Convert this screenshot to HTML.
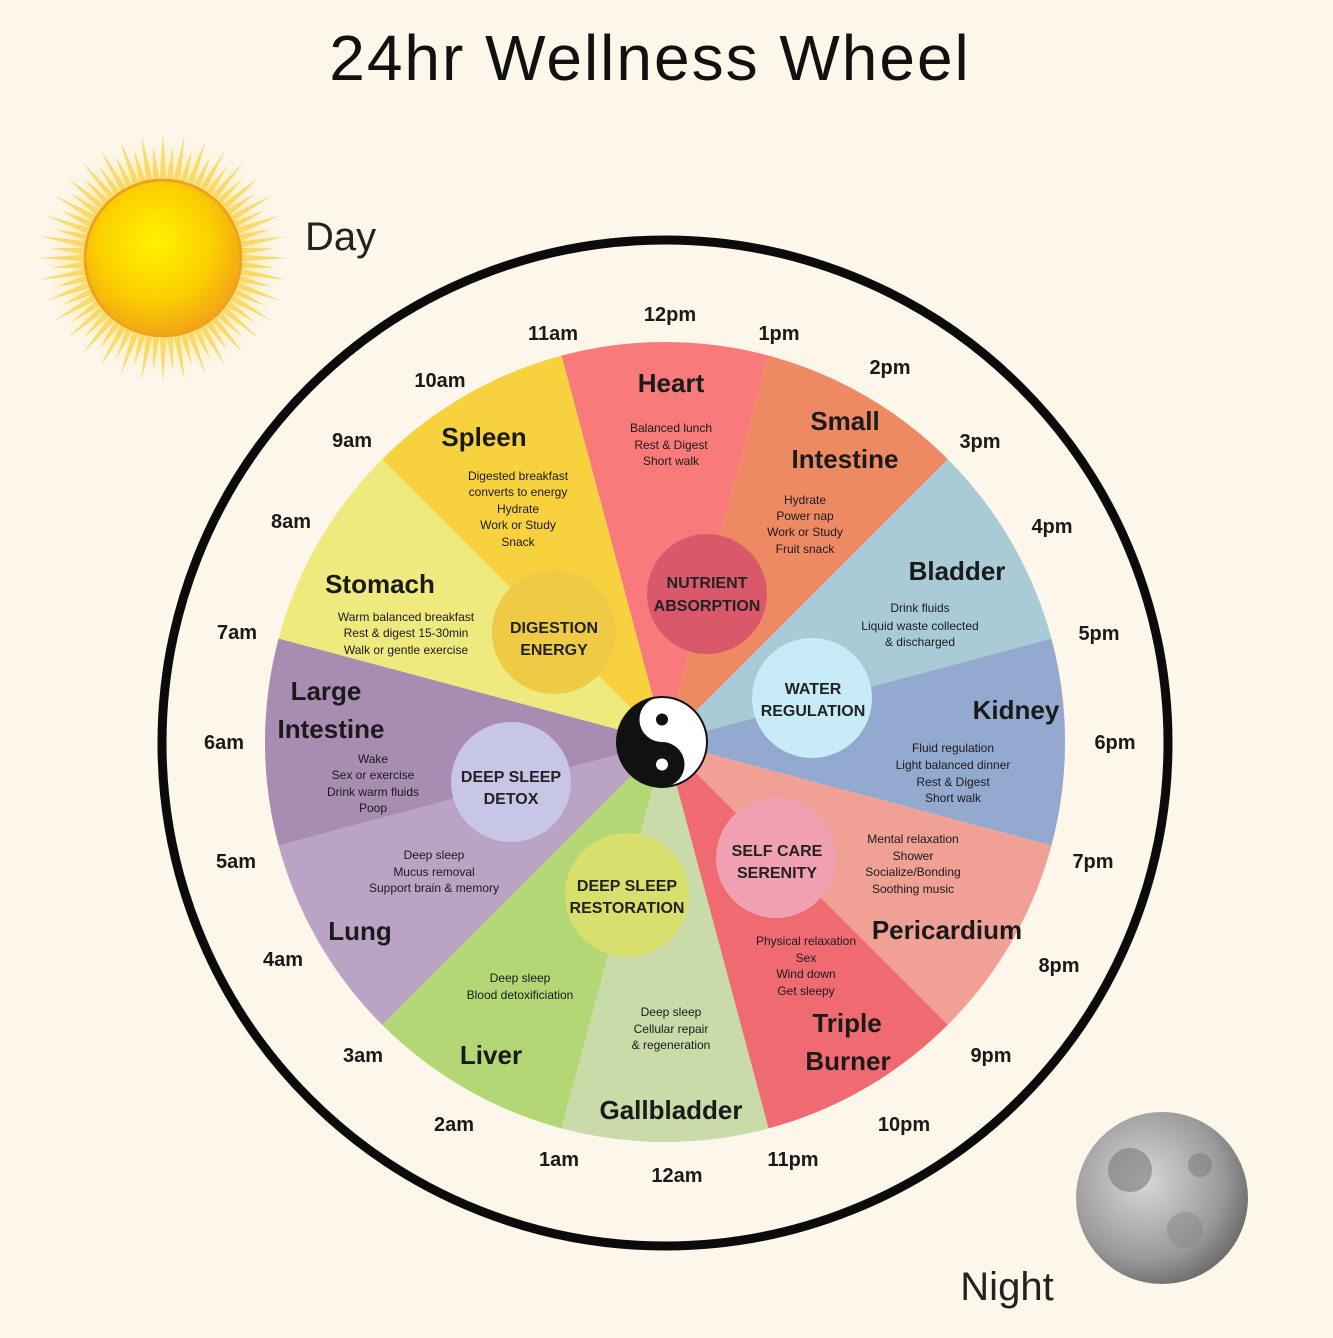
<!DOCTYPE html>
<html><head><meta charset="utf-8"><style>
html,body{margin:0;padding:0;background:#fdf6ea;}
svg{display:block;font-family:"Liberation Sans",sans-serif;}
</style></head><body>
<svg width="1333" height="1338" viewBox="0 0 1333 1338">
<defs>
<radialGradient id="sun" cx="45%" cy="40%" r="60%"><stop offset="0" stop-color="#fff200"/><stop offset="0.6" stop-color="#fcd000"/><stop offset="1" stop-color="#f2a516"/></radialGradient>
<radialGradient id="glow"><stop offset="0.55" stop-color="#fde27a" stop-opacity="0.9"/><stop offset="1" stop-color="#fdf6ea" stop-opacity="0"/></radialGradient>
<radialGradient id="moon" cx="40%" cy="40%" r="65%"><stop offset="0" stop-color="#d8d8d8"/><stop offset="0.7" stop-color="#9a9a9a"/><stop offset="1" stop-color="#6a6a6a"/></radialGradient>
</defs>
<rect width="1333" height="1338" fill="#fdf6ea"/>
<text x="650" y="80" font-size="64" letter-spacing="2" text-anchor="middle" fill="#111">24hr Wellness Wheel</text>
<!-- sun -->
<circle cx="163" cy="258" r="125" fill="url(#glow)"/>
<g id="rays" fill="#f9d65a" opacity="0.85"></g>
<circle cx="163" cy="258" r="78" fill="url(#sun)" stroke="#f0a318" stroke-width="3"/>
<text x="305" y="250" font-size="40" fill="#222">Day</text>
<!-- moon -->
<circle cx="1162" cy="1198" r="86" fill="url(#moon)"/>
<circle cx="1130" cy="1170" r="22" fill="#7a7a7a" opacity="0.6"/>
<circle cx="1185" cy="1230" r="18" fill="#888" opacity="0.5"/>
<circle cx="1200" cy="1165" r="12" fill="#777" opacity="0.5"/>
<text x="1007" y="1300" font-size="40" fill="#222" text-anchor="middle">Night</text>
<!-- outer ring -->
<circle cx="665" cy="743" r="503" fill="none" stroke="#0b0b0b" stroke-width="9"/>
<g stroke="none">
<path d="M665 742 L561.5 355.6 A400 400 0 0 1 768.5 355.6Z" fill="#f87a7b"/>
<path d="M665 742 L768.5 355.6 A400 400 0 0 1 947.8 459.2Z" fill="#ee8a63"/>
<path d="M665 742 L947.8 459.2 A400 400 0 0 1 1051.4 638.5Z" fill="#a9cbd6"/>
<path d="M665 742 L1051.4 638.5 A400 400 0 0 1 1051.4 845.5Z" fill="#94a9cf"/>
<path d="M665 742 L1051.4 845.5 A400 400 0 0 1 947.8 1024.8Z" fill="#f1a096"/>
<path d="M665 742 L947.8 1024.8 A400 400 0 0 1 768.5 1128.4Z" fill="#f06a72"/>
<path d="M665 742 L768.5 1128.4 A400 400 0 0 1 561.5 1128.4Z" fill="#c8dba8"/>
<path d="M665 742 L561.5 1128.4 A400 400 0 0 1 382.2 1024.8Z" fill="#b2d774"/>
<path d="M665 742 L382.2 1024.8 A400 400 0 0 1 278.6 845.5Z" fill="#bba3c6"/>
<path d="M665 742 L278.6 845.5 A400 400 0 0 1 278.6 638.5Z" fill="#a98cb1"/>
<path d="M665 742 L278.6 638.5 A400 400 0 0 1 382.2 459.2Z" fill="#eeea7e"/>
<path d="M665 742 L382.2 459.2 A400 400 0 0 1 561.5 355.6Z" fill="#f8d23e"/>
</g>
<circle cx="707" cy="594" r="60" fill="#d9596b"/>
<circle cx="812" cy="698" r="60" fill="#c7ecf7"/>
<circle cx="776" cy="858" r="60" fill="#f0a0b0"/>
<circle cx="627" cy="895" r="62" fill="#d8df6c"/>
<circle cx="511" cy="782" r="60" fill="#c8c6e6"/>
<circle cx="554" cy="632" r="62" fill="#efca45"/>
<g font-size="16" font-weight="bold" fill="#222" text-anchor="middle">
<text x="707" y="588">NUTRIENT</text><text x="707" y="611">ABSORPTION</text>
<text x="813" y="694">WATER</text><text x="813" y="716">REGULATION</text>
<text x="777" y="856">SELF CARE</text><text x="777" y="878">SERENITY</text>
<text x="627" y="891">DEEP SLEEP</text><text x="627" y="913">RESTORATION</text>
<text x="511" y="782">DEEP SLEEP</text><text x="511" y="804">DETOX</text>
<text x="554" y="633">DIGESTION</text><text x="554" y="655">ENERGY</text>
</g>
<g transform="translate(662,742)">
<circle r="45" fill="#fff" stroke="#111" stroke-width="2"/>
<path d="M0 -45 A45 45 0 0 0 0 45 A22.5 22.5 0 0 0 0 0 A22.5 22.5 0 0 1 0 -45Z" fill="#111"/>
<circle cx="0" cy="-22.5" r="6" fill="#111"/>
<circle cx="0" cy="22.5" r="6" fill="#fff"/>
</g>
<g font-size="26" font-weight="bold" fill="#1a1a1a" text-anchor="middle">
<text x="671" y="392">Heart</text>
<text x="845" y="430">Small</text><text x="845" y="468">Intestine</text>
<text x="957" y="580">Bladder</text>
<text x="1016" y="719">Kidney</text>
<text x="947" y="939">Pericardium</text>
<text x="847" y="1032">Triple</text><text x="848" y="1070">Burner</text>
<text x="671" y="1119">Gallbladder</text>
<text x="491" y="1064">Liver</text>
<text x="360" y="940">Lung</text>
<text x="326" y="700">Large</text><text x="331" y="738">Intestine</text>
<text x="380" y="593">Stomach</text>
<text x="484" y="446">Spleen</text>
</g>
<g font-size="12" fill="#1a1a1a" text-anchor="middle">
<text x="671" y="432">Balanced lunch</text><text x="671" y="449">Rest &amp; Digest</text><text x="671" y="465">Short walk</text>
<text x="805" y="504">Hydrate</text><text x="805" y="520">Power nap</text><text x="805" y="536">Work or Study</text><text x="805" y="553">Fruit snack</text>
<text x="920" y="612">Drink fluids</text><text x="920" y="630">Liquid waste collected</text><text x="920" y="646">&amp; discharged</text>
<text x="953" y="752">Fluid regulation</text><text x="953" y="769">Light balanced dinner</text><text x="953" y="786">Rest &amp; Digest</text><text x="953" y="802">Short walk</text>
<text x="913" y="843">Mental relaxation</text><text x="913" y="860">Shower</text><text x="913" y="876">Socialize/Bonding</text><text x="913" y="893">Soothing music</text>
<text x="806" y="945">Physical relaxation</text><text x="806" y="962">Sex</text><text x="806" y="978">Wind down</text><text x="806" y="995">Get sleepy</text>
<text x="671" y="1016">Deep sleep</text><text x="671" y="1033">Cellular repair</text><text x="671" y="1049">&amp; regeneration</text>
<text x="520" y="982">Deep sleep</text><text x="520" y="999">Blood detoxificiation</text>
<text x="434" y="859">Deep sleep</text><text x="434" y="876">Mucus removal</text><text x="434" y="892">Support brain &amp; memory</text>
<text x="373" y="763">Wake</text><text x="373" y="779">Sex or exercise</text><text x="373" y="796">Drink warm fluids</text><text x="373" y="812">Poop</text>
<text x="406" y="621">Warm balanced breakfast</text><text x="406" y="637">Rest &amp; digest 15-30min</text><text x="406" y="654">Walk or gentle exercise</text>
<text x="518" y="480">Digested breakfast</text><text x="518" y="496">converts to energy</text><text x="518" y="513">Hydrate</text><text x="518" y="529">Work or Study</text><text x="518" y="546">Snack</text>
</g>
<g font-size="20" font-weight="bold" fill="#1a1a1a" text-anchor="middle">
<text x="670" y="321">12pm</text><text x="779" y="340">1pm</text><text x="890" y="374">2pm</text>
<text x="980" y="448">3pm</text><text x="1052" y="533">4pm</text><text x="1099" y="640">5pm</text>
<text x="1115" y="749">6pm</text><text x="1093" y="868">7pm</text><text x="1059" y="972">8pm</text>
<text x="991" y="1062">9pm</text><text x="904" y="1131">10pm</text><text x="793" y="1166">11pm</text>
<text x="677" y="1182">12am</text><text x="559" y="1166">1am</text><text x="454" y="1131">2am</text>
<text x="363" y="1062">3am</text><text x="283" y="966">4am</text><text x="236" y="868">5am</text>
<text x="224" y="749">6am</text><text x="237" y="639">7am</text><text x="291" y="528">8am</text>
<text x="352" y="447">9am</text><text x="440" y="387">10am</text><text x="553" y="340">11am</text>
</g>
</svg>
<script>
var g=document.getElementById('rays'),s='';
for(var i=0;i<72;i++){var a=i*5*Math.PI/180,L=(i%2?112:125),w=0.04;
var x1=163+80*Math.cos(a-w),y1=258+80*Math.sin(a-w),x2=163+80*Math.cos(a+w),y2=258+80*Math.sin(a+w),x3=163+L*Math.cos(a),y3=258+L*Math.sin(a);
s+='<polygon points="'+x1+','+y1+' '+x3+','+y3+' '+x2+','+y2+'"/>';}
g.innerHTML=s;
</script>
</body></html>
